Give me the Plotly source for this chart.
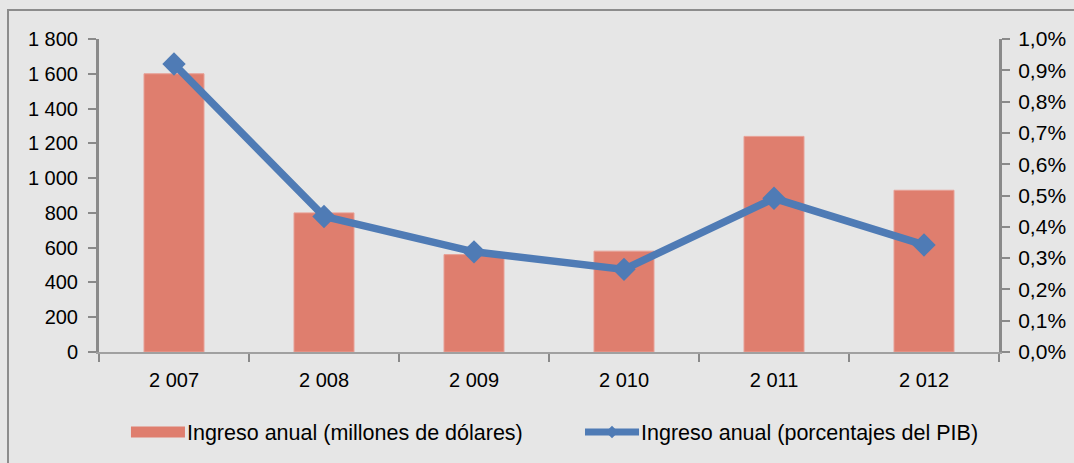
import plotly.graph_objects as go

years = ["2 007", "2 008", "2 009", "2 010", "2 011", "2 012"]
ingreso_musd = [1600, 800, 560, 580, 1240, 930]
ingreso_pib = [0.0092, 0.00433, 0.0032, 0.00264, 0.00491, 0.00342]

bar_name = "Ingreso anual (millones de dólares)"
line_name = "Ingreso anual (porcentajes del PIB)"

BG = "#e6e6e6"
AXIS = "#8a8a8a"
BAR = "#df7e6e"
LINE = "#4f7bb5"
FONT = "Liberation Sans, Arial, sans-serif"

fig = go.Figure()
fig.add_trace(go.Bar(
    x=years, y=ingreso_musd, name=bar_name, showlegend=False,
    marker=dict(color=BAR, line=dict(color="#e8a096", width=1)),
    width=0.4, yaxis="y",
))
# legend proxy for the bar series (wide rectangular swatch)
fig.add_trace(go.Scatter(
    x=[None], y=[None], name=bar_name, mode="lines",
    line=dict(color=BAR, width=11), yaxis="y", showlegend=True, legend="legend",
))
fig.add_trace(go.Scatter(
    x=years, y=ingreso_pib, name=line_name, mode="lines+markers",
    line=dict(color=LINE, width=7.5),
    marker=dict(symbol="diamond", size=18, color=LINE),
    yaxis="y2", legend="legend2",
))

leg_common = dict(orientation="h", y=-0.256, yanchor="middle", xanchor="left",
                  font=dict(size=21.5), bgcolor="rgba(0,0,0,0)", itemwidth=47)

fig.update_layout(
    width=1074, height=463,
    margin=dict(l=99, r=75, t=39, b=111, autoexpand=False),
    paper_bgcolor=BG, plot_bgcolor=BG,
    separators=", ",
    font=dict(family=FONT, size=20, color="#000000"),
    showlegend=True,
    legend=dict(x=0.0344, **leg_common),
    legend2=dict(x=0.5389, **leg_common),
    xaxis=dict(
        type="category", showgrid=False, showline=True, linecolor="#a0a0a0", linewidth=2,
        ticks="outside", tickson="boundaries", ticklen=8, tickwidth=2, tickcolor=AXIS,
        tickfont=dict(size=20), zeroline=False, automargin=False, ticklabelstandoff=9,
    ),
    yaxis=dict(
        range=[0, 1800], dtick=200, tickformat=",d", showgrid=False, zeroline=False,
        showline=True, linecolor=AXIS, linewidth=3, automargin=False,
        ticks="outside", ticklen=8, tickwidth=2, tickcolor=AXIS, ticklabelstandoff=6,
    ),
    yaxis2=dict(
        range=[0, 0.01], dtick=0.001, tickformat=".1%", overlaying="y", side="right",
        showgrid=False, zeroline=False, showline=True, linecolor=AXIS, linewidth=3,
        ticks="outside", ticklen=8, tickwidth=2, tickcolor=AXIS, ticklabelstandoff=4,
        automargin=False, tickfont=dict(size=21),
    ),
    shapes=[dict(type="rect", xref="paper", yref="paper",
                 x0=-0.1011, x1=1.15, y0=-0.5, y1=1.0927,
                 line=dict(color="#8c8c8c", width=2), fillcolor="rgba(0,0,0,0)", layer="above")],
)

post = """
document.body.style.margin='0';
var gd = document.getElementById('{plot_id}');
function widenSwatches(){
  gd.querySelectorAll('.legendlines path').forEach(function(p){
    p.setAttribute('d','M1,0h54');
    p.style.strokeWidth = (parseFloat(p.style.strokeWidth) > 9 ? '11px' : '7px');
  });
  gd.querySelectorAll('.legendpoints path.scatterpts').forEach(function(p){
    p.setAttribute('transform','translate(28,0) scale(0.6)');
  });
}
widenSwatches();
if (gd.on) { gd.on('plotly_afterplot', widenSwatches); }
"""

fig.write_html("out.html", config={"displayModeBar": False}, post_script=post)
